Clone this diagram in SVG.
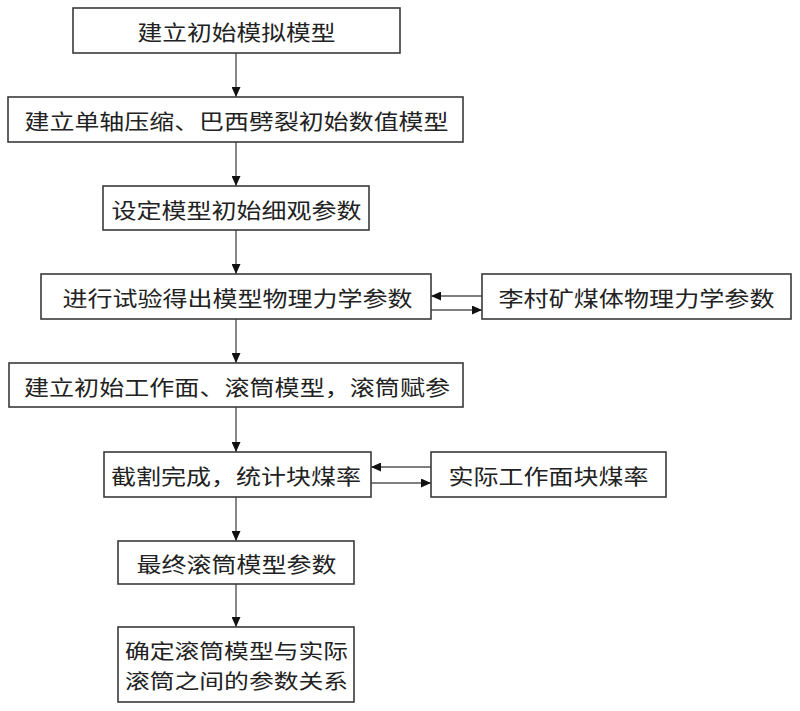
<svg xmlns="http://www.w3.org/2000/svg" width="800" height="711" viewBox="0 0 800 711">
<style>
.box{fill:#fff;stroke:#3a3a3a;stroke-width:1.6}
.t{font-family:"Noto Sans CJK SC","Noto Sans CJK JP",sans-serif;font-size:21px;fill:#222;text-anchor:middle;dominant-baseline:central}
.t2{font-size:20px}
.c{stroke:#555;stroke-width:1.4;fill:none;marker-end:url(#ah)}
</style>
<defs>
<marker id="ah" markerUnits="userSpaceOnUse" markerWidth="10" markerHeight="9" refX="10" refY="4.5" orient="auto">
<path d="M0,0 L10,4.5 L0,9 z" fill="#111"/>
</marker>
</defs>
<rect width="800" height="711" fill="#fff"/>
<g id="connectors">
<line class="c" x1="236" y1="53" x2="236" y2="97"/>
<line class="c" x1="236" y1="142" x2="236" y2="186"/>
<line class="c" x1="236" y1="230" x2="236" y2="274"/>
<line class="c" x1="236" y1="319" x2="236" y2="363"/>
<line class="c" x1="236" y1="407" x2="236" y2="452"/>
<line class="c" x1="236" y1="497" x2="236" y2="541"/>
<line class="c" x1="236" y1="584" x2="236" y2="627"/>
<line class="c" x1="482" y1="296" x2="431" y2="296"/>
<line class="c" x1="431" y1="310" x2="482" y2="310"/>
<line class="c" x1="431" y1="467" x2="371" y2="467"/>
<line class="c" x1="371" y1="483" x2="431" y2="483"/>
</g>
<g id="n1"><rect class="box" x="73" y="8" width="327" height="45"/><text class="t" x="236.5" y="31" textLength="198" lengthAdjust="spacingAndGlyphs">建立初始模拟模型</text></g>
<g id="n2"><rect class="box" x="8" y="97" width="455" height="45"/><text class="t" x="236.5" y="120" textLength="424" lengthAdjust="spacingAndGlyphs">建立单轴压缩、巴西劈裂初始数值模型</text></g>
<g id="n3"><rect class="box" x="103" y="186" width="266" height="44"/><text class="t" x="236.5" y="208.5" textLength="250" lengthAdjust="spacingAndGlyphs">设定模型初始细观参数</text></g>
<g id="n4"><rect class="box" x="41" y="274" width="390" height="45"/><text class="t" x="237.5" y="297" textLength="350" lengthAdjust="spacingAndGlyphs">进行试验得出模型物理力学参数</text></g>
<g id="n5"><rect class="box" x="482" y="274" width="309" height="45"/><text class="t" x="636.5" y="297" textLength="276" lengthAdjust="spacingAndGlyphs">李村矿煤体物理力学参数</text></g>
<g id="n6"><rect class="box" x="9" y="363" width="454" height="44"/><text class="t" x="237" y="385.5" textLength="426" lengthAdjust="spacingAndGlyphs">建立初始工作面、滚筒模型，滚筒赋参</text></g>
<g id="n7"><rect class="box" x="104" y="452" width="267" height="45"/><text class="t" x="236" y="475" textLength="250" lengthAdjust="spacingAndGlyphs">截割完成，统计块煤率</text></g>
<g id="n8"><rect class="box" x="431" y="452" width="235" height="45"/><text class="t" x="548.5" y="475" textLength="200" lengthAdjust="spacingAndGlyphs">实际工作面块煤率</text></g>
<g id="n9"><rect class="box" x="118" y="541" width="236" height="43"/><text class="t" x="236.5" y="563" textLength="200" lengthAdjust="spacingAndGlyphs">最终滚筒模型参数</text></g>
<g id="n10"><rect class="box" x="118" y="627" width="236" height="75"/><text class="t t2" x="236.5" y="650" textLength="223" lengthAdjust="spacingAndGlyphs">确定滚筒模型与实际</text><text class="t t2" x="236.5" y="680" textLength="223" lengthAdjust="spacingAndGlyphs">滚筒之间的参数关系</text></g>
</svg>
